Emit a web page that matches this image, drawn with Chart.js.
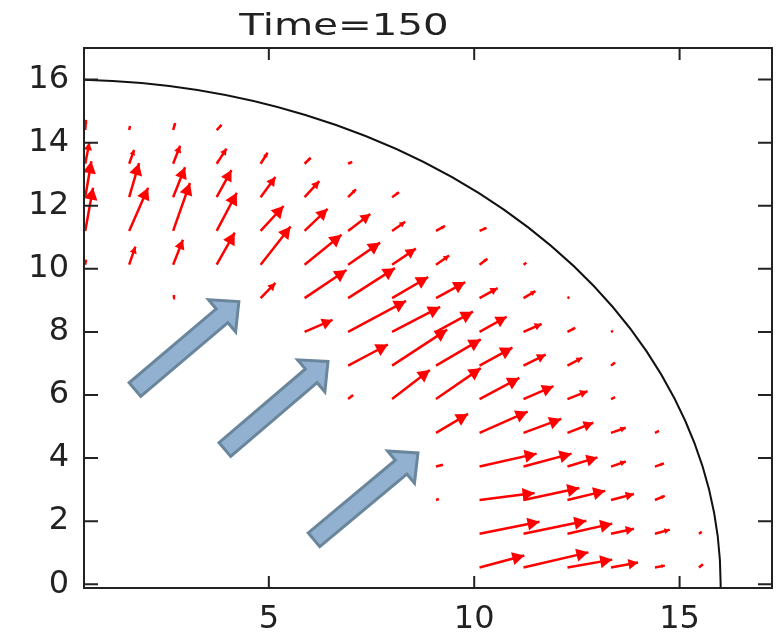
<!DOCTYPE html>
<html>
<head>
<meta charset="utf-8">
<title>Time=150</title>
<script src="https://cdn.jsdelivr.net/npm/chart.js@4.4.1/dist/chart.umd.min.js"></script>
<style>
	html, body { margin: 0; padding: 0; background: #fff; }
	#wrap { position: relative; width: 778px; height: 634px; }
</style>
</head>
<body>
<div id="wrap"><canvas id="quiver"></canvas></div>
<script>
// grid the velocity arrows sit on (same spacing both ways)
const gridX = [0.53, 1.6, 2.67, 3.73, 4.8, 5.87, 6.93, 8.0, 9.07, 10.13, 11.2, 12.27, 13.33, 14.4, 15.47]
const gridY = [0.53, 1.6, 2.67, 3.73, 4.8, 5.87, 6.93, 8.0, 9.07, 10.13, 11.2, 12.27, 13.33, 14.4, 15.47]

// arrow components, one row per gridY value, one column per gridX value
const arrowU = [
	[0, 0, 0, 0, 0, 0, 0, 0, 0, 1.09, 1.58, 1.09, 0.66, 0.24, 0.10],
	[0, 0, 0, 0, 0, 0, 0, 0, 0, 1.46, 1.53, 1.09, 0.56, 0.36, 0.07],
	[0, 0, 0, 0, 0, 0, 0, 0, 0.07, 1.34, 1.36, 0.92, 0.56, 0.24, 0],
	[0, 0, 0, 0, 0, 0, 0, 0, 0.17, 1.39, 1.17, 0.73, 0.36, 0.22, 0],
	[0, 0, 0, 0, 0, 0, 0, 0, 0.78, 1.17, 0.92, 0.63, 0.36, 0.10, 0],
	[0, 0, 0, 0, 0, 0, 0.12, 0.92, 1.09, 0.97, 0.73, 0.49, 0.10, 0, 0],
	[0, 0, 0, 0, 0, 0, 0.97, 1.34, 1.09, 0.80, 0.54, 0.36, 0.10, 0, 0],
	[0, 0, 0, 0, 0, 0.68, 1.41, 1.17, 0.90, 0.66, 0.44, 0.19, 0.05, 0, 0],
	[0, 0, 0.02, 0, 0.36, 1.02, 1.14, 0.88, 0.71, 0.44, 0.29, 0.05, 0, 0, 0],
	[0.02, 0.15, 0.24, 0.44, 0.73, 0.90, 0.78, 0.58, 0.32, 0.19, 0.07, 0, 0, 0, 0],
	[0.19, 0.46, 0.41, 0.49, 0.56, 0.56, 0.54, 0.32, 0.22, 0.17, 0, 0, 0, 0, 0],
	[0.15, 0.24, 0.29, 0.36, 0.36, 0.36, 0.19, 0.17, 0, 0, 0, 0, 0, 0, 0],
	[0.10, 0.12, 0.17, 0.24, 0.17, 0.15, 0.10, 0, 0, 0, 0, 0, 0, 0, 0],
	[0.02, 0.02, 0.05, 0.12, 0, 0, 0, 0, 0, 0, 0, 0, 0, 0, 0]
]
const arrowV = [
	[0, 0, 0, 0, 0, 0, 0, 0, 0, 0.38, 0.48, 0.25, 0.16, 0.06, 0.10],
	[0, 0, 0, 0, 0, 0, 0, 0, 0, 0.38, 0.41, 0.32, 0.16, 0.13, 0.06],
	[0, 0, 0, 0, 0, 0, 0, 0, 0.03, 0.22, 0.38, 0.29, 0.19, 0.13, 0],
	[0, 0, 0, 0, 0, 0, 0, 0, 0.06, 0.41, 0.41, 0.29, 0.16, 0.10, 0],
	[0, 0, 0, 0, 0, 0, 0, 0, 0.60, 0.67, 0.44, 0.32, 0.16, 0.06, 0],
	[0, 0, 0, 0, 0, 0, 0.13, 0.92, 0.98, 0.67, 0.41, 0.25, 0.06, 0, 0],
	[0, 0, 0, 0, 0, 0, 0.67, 1.14, 0.83, 0.57, 0.35, 0.25, 0.10, 0, 0],
	[0, 0, 0, 0, 0, 0.38, 0.98, 0.79, 0.64, 0.48, 0.25, 0.13, 0.03, 0, 0],
	[0, 0, 0.10, 0, 0.48, 0.89, 0.95, 0.67, 0.51, 0.32, 0.22, 0.03, 0, 0, 0],
	[0.16, 0.57, 0.79, 1.02, 1.21, 0.95, 0.70, 0.51, 0.29, 0.19, 0.06, 0, 0, 0, 0],
	[1.37, 1.37, 1.52, 1.21, 0.79, 0.70, 0.54, 0.29, 0.16, 0.10, 0, 0, 0, 0, 0],
	[1.14, 1.08, 0.95, 0.86, 0.64, 0.51, 0.25, 0.16, 0, 0, 0, 0, 0, 0, 0],
	[0.67, 0.44, 0.57, 0.48, 0.35, 0.19, 0.06, 0, 0, 0, 0, 0, 0, 0, 0],
	[0.32, 0.13, 0.22, 0.16, 0, 0, 0, 0, 0, 0, 0, 0, 0, 0, 0]
]

const xTicks = [5, 10, 15]
const yTicks = [0, 2, 4, 6, 8, 10, 12, 14, 16]
const titleText = 'Time=150'
const boundaryRadius = 16

// the three big pointer arrows drawn over the plot
const pointerTails = [[1.74, 6.17], [3.93, 4.27], [6.10, 1.41]]
const pointerTips = [[4.27, 8.96], [6.44, 7.06], [8.63, 4.16]]

const arrows = []
gridY.forEach(function(y, j) {
	gridX.forEach(function(x, i) {
		const u = (arrowU[j] || [])[i] || 0
		const v = (arrowV[j] || [])[i] || 0
		if (u || v) arrows.push({x: x, y: y, u: u, v: v})
	})
})

// shafts as broken line segments, the gaps split one arrow from the next
const shaftData = []
arrows.forEach(function(a) {
	shaftData.push({x: a.x, y: a.y}, {x: a.x + a.u, y: a.y + a.v}, {x: null, y: null})
})

const INK = '#222'

const quiverPlugin = {
	id: 'quiver',
	beforeDatasetsDraw(chart) {
		const {ctx, chartArea: area, scales: {x, y}} = chart
		const cx = x.getPixelForValue(0)
		const cy = y.getPixelForValue(0)
		const rx = x.getPixelForValue(boundaryRadius) - cx
		const ry = cy - y.getPixelForValue(boundaryRadius)
		ctx.save()
		ctx.beginPath()
		ctx.rect(area.left, area.top, area.right - area.left, area.bottom - area.top)
		ctx.clip()
		ctx.beginPath()
		ctx.ellipse(cx, cy, rx, ry, 0, -Math.PI / 2, 0.02)
		ctx.strokeStyle = '#111'
		ctx.lineWidth = 2
		ctx.stroke()
		ctx.restore()
	},
	afterDatasetsDraw(chart) {
		const {ctx, chartArea: area, scales: {x, y}} = chart
		ctx.save()
		ctx.beginPath()
		ctx.rect(area.left, area.top, area.right - area.left, area.bottom - area.top)
		ctx.clip()

		// red arrow heads
		ctx.fillStyle = '#ff0000'
		arrows.forEach(function(a) {
			const x0 = x.getPixelForValue(a.x), y0 = y.getPixelForValue(a.y)
			const x1 = x.getPixelForValue(a.x + a.u), y1 = y.getPixelForValue(a.y + a.v)
			const len = Math.hypot(x1 - x0, y1 - y0)
			if (len < 4) return
			const dx = (x1 - x0) / len, dy = (y1 - y0) / len
			const hl = Math.min(12, len * 0.35)
			const hw = hl * 0.55
			const bx = x1 - dx * hl, by = y1 - dy * hl
			ctx.beginPath()
			ctx.moveTo(x1, y1)
			ctx.lineTo(bx - dy * hw, by + dx * hw)
			ctx.lineTo(bx + dy * hw, by - dx * hw)
			ctx.closePath()
			ctx.fill()
		})

		// blue pointer arrows
		pointerTails.forEach(function(t, k) {
			const tip = pointerTips[k]
			const x0 = x.getPixelForValue(t[0]), y0 = y.getPixelForValue(t[1])
			const x1 = x.getPixelForValue(tip[0]), y1 = y.getPixelForValue(tip[1])
			const len = Math.hypot(x1 - x0, y1 - y0)
			const dx = (x1 - x0) / len, dy = (y1 - y0) / len
			const nx = -dy, ny = dx
			const w = 9, W = 21, H = 22
			const bx = x1 - dx * H, by = y1 - dy * H
			ctx.beginPath()
			ctx.moveTo(x0 + nx * w, y0 + ny * w)
			ctx.lineTo(bx + nx * w, by + ny * w)
			ctx.lineTo(bx + nx * W, by + ny * W)
			ctx.lineTo(x1, y1)
			ctx.lineTo(bx - nx * W, by - ny * W)
			ctx.lineTo(bx - nx * w, by - ny * w)
			ctx.lineTo(x0 - nx * w, y0 - ny * w)
			ctx.closePath()
			ctx.fillStyle = '#92b1d0'
			ctx.fill()
			ctx.lineJoin = 'miter'
			ctx.lineWidth = 3
			ctx.strokeStyle = '#6a869c'
			ctx.stroke()
		})
		ctx.restore()
	},
	afterDraw(chart) {
		const {ctx, chartArea: area, scales: {x, y}} = chart
		ctx.save()
		ctx.strokeStyle = INK
		ctx.lineWidth = 2
		ctx.strokeRect(area.left, area.top, area.right - area.left, area.bottom - area.top)

		// ticks point into the plot on all four sides
		ctx.beginPath()
		xTicks.forEach(function(v) {
			const px = x.getPixelForValue(v)
			ctx.moveTo(px, area.bottom); ctx.lineTo(px, area.bottom - 12)
			ctx.moveTo(px, area.top); ctx.lineTo(px, area.top + 12)
		})
		yTicks.forEach(function(v) {
			const py = y.getPixelForValue(v)
			ctx.moveTo(area.left, py); ctx.lineTo(area.left + 14, py)
			ctx.moveTo(area.right, py); ctx.lineTo(area.right - 14, py)
		})
		ctx.stroke()

		// title, set a little left of the plot centre like the original
		ctx.fillStyle = INK
		ctx.font = '31px "DejaVu Sans"'
		ctx.textAlign = 'center'
		ctx.textBaseline = 'alphabetic'
		ctx.translate(344, 35)
		ctx.scale(1.3, 1)
		ctx.fillText(titleText, 0, 0)
		ctx.restore()
	}
}

const tickFont = {family: 'DejaVu Sans', size: 32}

new Chart(document.getElementById('quiver'), {
	type: 'scatter',
	data: {
		datasets: [{
			data: shaftData,
			showLine: true,
			spanGaps: false,
			borderColor: '#ff0000',
			borderWidth: 2.5,
			pointRadius: 0,
			pointHoverRadius: 0,
			tension: 0
		}]
	},
	options: {
		responsive: true,
		maintainAspectRatio: false,
		animation: false,
		events: [],
		layout: {padding: {top: 48, right: 6, left: 0, bottom: 0}},
		plugins: {
			legend: {display: false},
			title: {display: false},
			tooltip: {enabled: false}
		},
		scales: {
			x: {
				type: 'linear',
				min: 0.5,
				max: 17.25,
				grid: {display: false, drawTicks: false},
				border: {display: false},
				afterBuildTicks: s => { s.ticks = xTicks.map(v => ({value: v})) },
				afterFit: s => { s.height = 46 },
				ticks: {font: tickFont, color: INK, padding: 12, maxRotation: 0}
			},
			y: {
				type: 'linear',
				min: -0.12,
				max: 17,
				grid: {display: false, drawTicks: false},
				border: {display: false},
				afterBuildTicks: s => { s.ticks = yTicks.map(v => ({value: v})) },
				afterFit: s => { s.width = 84 },
				ticks: {font: tickFont, color: INK, padding: 15}
			}
		}
	},
	plugins: [quiverPlugin]
})
</script>
</body>
</html>
